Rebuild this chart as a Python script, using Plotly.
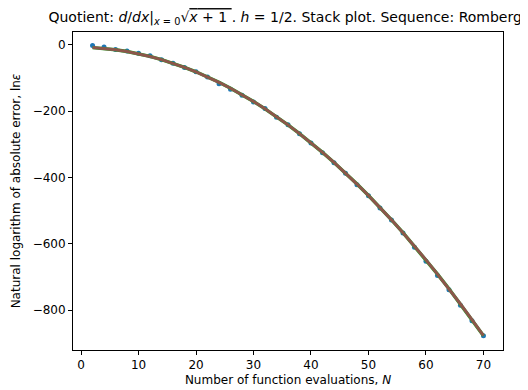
import plotly.graph_objects as go

# Number of function evaluations and measured log errors
n_evals = list(range(2, 71, 2))
log_err = [-2, -6, -14, -18, -25, -33, -45, -55, -68, -81, -97, -117, -134, -152,
           -172, -192, -218, -241, -268, -296, -325, -355, -387, -422, -455, -492,
           -528, -567, -610, -652, -695, -738, -785, -832, -877]

# Fitted curve through the points
fit_err = [-8.0, -10.5, -14.5, -19.8, -26.5, -34.7, -44.2, -55.1, -67.5, -81.1,
           -96.3, -112.7, -130.6, -150.0, -170.6, -192.7, -216.1, -241.0, -267.3,
           -294.9, -324.0, -354.4, -386.2, -419.5, -454.1, -490.1, -527.5, -566.3,
           -606.6, -648.1, -691.1, -735.4, -781.3, -828.5, -877.0]

x_ticks = [0, 10, 20, 30, 40, 50, 60, 70]
y_ticks = [0, -200, -400, -600, -800]

fig = go.Figure()

# data points
fig.add_trace(go.Scatter(
    x=n_evals, y=log_err, mode="markers",
    marker=dict(color="#1f77b4", size=5), showlegend=False
))

# stacked fit lines (green underneath, brown on top)
fig.add_trace(go.Scatter(
    x=n_evals, y=fit_err, mode="lines",
    line=dict(color="#2ca02c", width=3.4), showlegend=False
))
fig.add_trace(go.Scatter(
    x=n_evals, y=fit_err, mode="lines",
    line=dict(color="#8c564b", width=3), showlegend=False
))

title = ("Quotient: <i>d</i>/<i>dx</i>|<sub><i>x</i> = 0</sub>"
         "√<span style='text-decoration:overline'><i>x</i> + 1 </span>. "
         "<i>h</i> = 1/2. Stack plot. Sequence: Romberg")

axis_style = dict(
    showline=True, linecolor="black", linewidth=1, mirror=True,
    ticks="outside", ticklen=4, tickcolor="black", showgrid=False,
    zeroline=False, tickfont=dict(size=12, color="black"), automargin=False,
)

# page body adds an 8px offset, so the figure is sized a little smaller
fig.update_layout(
    width=520, height=382,
    margin=dict(l=65, r=25, t=24, b=40),
    paper_bgcolor="white", plot_bgcolor="white",
    font=dict(family="DejaVu Sans", color="black"),
    title=dict(text=title, x=0.533, xanchor="center", y=0.976, yanchor="middle",
               font=dict(size=14)),
    xaxis=dict(range=[-1.4, 73.4], tickvals=x_ticks,
               title=dict(text="Number of function evaluations, <i>N</i>",
                          font=dict(size=12), standoff=4),
               **axis_style),
    yaxis=dict(range=[-920, 39], tickvals=y_ticks,
               title=dict(text="Natural logarithm of absolute error, ln<i>ε</i>",
                          font=dict(size=12), standoff=9),
               **axis_style),
)

fig.write_html("out.html")
